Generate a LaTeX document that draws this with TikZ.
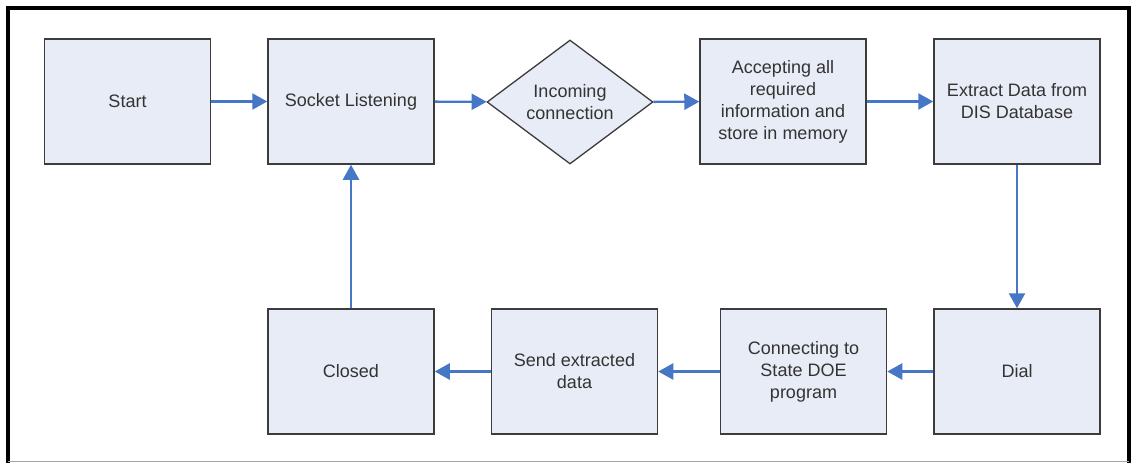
\documentclass[tikz,border=0pt]{standalone}
\usepackage{fontspec}
\setmainfont{Liberation Sans}
\usetikzlibrary{arrows.meta,shapes.geometric}
\definecolor{boxfill}{HTML}{E8ECF6}
\definecolor{boxline}{HTML}{3C3C3C}
\definecolor{arrowblue}{HTML}{4676C6}
\definecolor{txt}{HTML}{333333}
\begin{document}
\begin{tikzpicture}[x=1pt,y=-1pt,
  box/.style={draw=boxline, fill=boxfill, line width=1.5pt, minimum width=166pt, minimum height=125pt,
    inner sep=0pt, align=center, text=txt, font=\fontsize{18}{22}\selectfont},
  dia/.style={diamond, draw=boxline, fill=boxfill, line width=1.3pt, minimum width=166pt, minimum height=124pt,
    aspect=1.34, inner sep=0pt, align=center, text=txt, font=\fontsize{18}{22}\selectfont},
  flow/.style={draw=arrowblue, line width=2.4pt, -{Triangle[length=15pt,width=16pt]}}]
\useasboundingbox (0,0) rectangle (1132,463);
\fill[white] (0,0) rectangle (1132,463);
\draw[line width=3.5pt] (8,463) -- (8,8) -- (1129,8) -- (1129,463);
\draw[black!35, line width=1pt] (8,461.5) -- (1129,461.5);

\node[box] (start) at (127.5,101.5) {Start};
\node[box] (sock) at (351,101.5) {Socket Listening};
\node[dia] (inc) at (570,102) {Incoming\\connection};
\node[box] (acc) at (783,101.5) {Accepting all\\required\\information and\\store in memory};
\node[box] (ext) at (1017,101.5) {Extract Data from\\DIS Database};
\node[box] (dial) at (1017,371.5) {Dial};
\node[box] (conn) at (803.5,371.5) {Connecting to\\State DOE\\program};
\node[box] (send) at (574.5,371.5) {Send extracted\\data};
\node[box] (closed) at (351,371.5) {Closed};

\draw[flow] (start) -- (sock);
\draw[flow] (sock) -- (inc);
\draw[flow] (inc) -- (acc);
\draw[flow] (acc) -- (ext);
\draw[flow] (ext) -- (dial);
\draw[flow] (dial) -- (conn);
\draw[flow] (conn) -- (send);
\draw[flow] (send) -- (closed);
\draw[flow] (closed) -- (sock);
\end{tikzpicture}
\end{document}
